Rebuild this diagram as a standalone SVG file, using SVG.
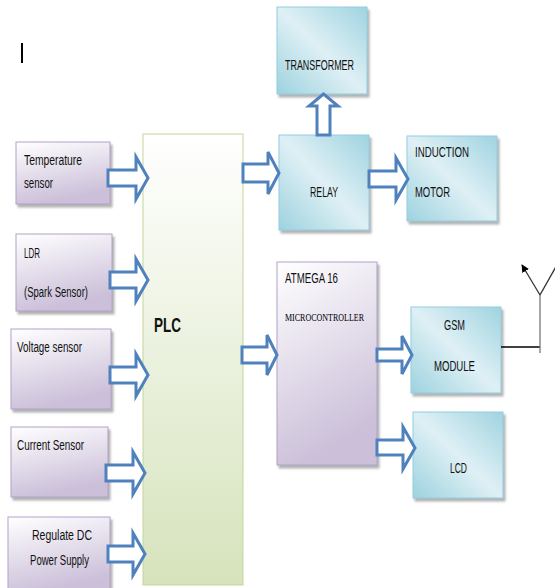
<svg xmlns="http://www.w3.org/2000/svg" width="555" height="588" viewBox="0 0 555 588">
<defs>
<linearGradient id="gPurple" x1="0" y1="0" x2="0.3" y2="1"><stop offset="0" stop-color="#ffffff"/><stop offset="1" stop-color="#cbbfd9"/></linearGradient>
<linearGradient id="gGreen" x1="0" y1="0" x2="0" y2="1"><stop offset="0" stop-color="#ffffff"/><stop offset="1" stop-color="#d6e3bc"/></linearGradient>
<linearGradient id="gCyan" x1="0" y1="1" x2="1" y2="0"><stop offset="0" stop-color="#9dd2df"/><stop offset="0.5" stop-color="#dff0f5"/><stop offset="1" stop-color="#9fd3e0"/></linearGradient>
<filter id="sh" x="-10%" y="-10%" width="130%" height="130%"><feDropShadow dx="2" dy="3" stdDeviation="1.2" flood-color="#7f7f7f" flood-opacity="0.6"/></filter>
<marker id="ah" viewBox="0 0 10 10" refX="9" refY="5" markerWidth="6" markerHeight="6" orient="auto"><path d="M0,0 L10,5 L0,10 Z" fill="#000"/></marker>
</defs>
<style>
.p{fill:url(#gPurple);stroke:#b3a2c7;stroke-width:1;filter:url(#sh)}
.c{fill:url(#gCyan);stroke:#93cddd;stroke-width:1;filter:url(#sh)}
.g{fill:url(#gGreen);stroke:#c3d69b;stroke-width:1}
.t{font-family:"Liberation Sans","Liberation Sans Narrow",sans-serif;font-size:14px;fill:#111}
.s{font-family:"Liberation Serif",serif;font-size:9.5px;fill:#000}
.ar{fill:#fff;stroke:#4f81bd;stroke-width:3;stroke-linejoin:miter}
</style>
<line x1="22" y1="43" x2="22" y2="63" stroke="#000" stroke-width="2"/>
<g id="temp"><rect class="p" x="16" y="142" width="94" height="62"/><text class="t" x="24" y="165" textLength="58" lengthAdjust="spacingAndGlyphs">Temperature</text><text class="t" x="24" y="188" textLength="29" lengthAdjust="spacingAndGlyphs">sensor</text></g>
<g id="ldr"><rect class="p" x="16" y="234" width="96" height="77"/><text class="t" x="24" y="258" textLength="16" lengthAdjust="spacingAndGlyphs">LDR</text><text class="t" x="24" y="297" textLength="64" lengthAdjust="spacingAndGlyphs">(Spark Sensor)</text></g>
<g id="voltage"><rect class="p" x="11" y="329" width="100" height="80"/><text class="t" x="17" y="352" textLength="65" lengthAdjust="spacingAndGlyphs">Voltage sensor</text></g>
<g id="current"><rect class="p" x="11" y="427" width="97" height="70"/><text class="t" x="17" y="450" textLength="67" lengthAdjust="spacingAndGlyphs">Current Sensor</text></g>
<g id="dc"><rect class="p" x="8" y="517" width="102" height="76"/><text class="t" x="32" y="540" textLength="60" lengthAdjust="spacingAndGlyphs">Regulate DC</text><text class="t" x="30" y="565" textLength="59" lengthAdjust="spacingAndGlyphs">Power Supply</text></g>
<g id="plc"><rect class="g" x="143" y="134" width="100" height="451"/><text class="t" x="154" y="332" style="font-size:21px;font-weight:bold" textLength="27" lengthAdjust="spacingAndGlyphs">PLC</text></g>
<g id="transformer"><rect class="c" x="277" y="7" width="90" height="87"/><text class="t" x="285" y="70" textLength="69" lengthAdjust="spacingAndGlyphs">TRANSFORMER</text></g>
<g id="relay"><rect class="c" x="279" y="135" width="90" height="95"/><text class="t" x="310" y="197" textLength="28" lengthAdjust="spacingAndGlyphs">RELAY</text></g>
<g id="motor"><rect class="c" x="407" y="136" width="90" height="85"/><text class="t" x="415" y="157" textLength="54" lengthAdjust="spacingAndGlyphs">INDUCTION</text><text class="t" x="415" y="197" textLength="35" lengthAdjust="spacingAndGlyphs">MOTOR</text></g>
<g id="atmega"><rect class="p" x="277" y="262" width="100" height="203"/><text class="t" x="285" y="283" textLength="53" lengthAdjust="spacingAndGlyphs">ATMEGA 16</text><text class="s" x="285" y="321" textLength="79" lengthAdjust="spacingAndGlyphs">MICROCONTROLLER</text></g>
<g id="gsm"><rect class="c" x="411" y="307" width="90" height="86"/><text class="t" x="444" y="330" textLength="21" lengthAdjust="spacingAndGlyphs">GSM</text><text class="t" x="434" y="371" textLength="41" lengthAdjust="spacingAndGlyphs">MODULE</text></g>
<g id="lcd"><rect class="c" x="413" y="412" width="90" height="86"/><text class="t" x="450" y="473" textLength="17" lengthAdjust="spacingAndGlyphs">LCD</text></g>
<g id="connectors">
<path class="ar" d="M108 170 H136 V157 L148 178 L136 199 V186 H108 Z"/>
<path class="ar" d="M110 272 H136 V259 L148 280 L136 301 V288 H110 Z"/>
<path class="ar" d="M110 367 H136 V354 L148 375 L136 396 V383 H110 Z"/>
<path class="ar" d="M106 465 H133 V452 L145 473 L133 494 V481 H106 Z"/>
<path class="ar" d="M108 546 H133 V533 L145 554 L133 575 V562 H108 Z"/>
<path class="ar" d="M243 164 H268 V152 L279 173 L268 194 V182 H243 Z"/>
<path class="ar" d="M369 171 H396 V158 L408 179 L396 200 V187 H369 Z"/>
<path class="ar" d="M317 135 V106 H309 L323.5 94 L338 106 H330 V135 Z"/>
<path class="ar" d="M242 347 H267 V335 L277 355 L267 375 V363 H242 Z"/>
<path class="ar" d="M377 349 H402 V336 L412 355 L402 374 V361 H377 Z"/>
<path class="ar" d="M377 440 H403 V427 L415 448 L403 469 V455 H377 Z"/>
<line x1="501" y1="347" x2="540" y2="347" stroke="#000" stroke-width="1.3"/>
<line x1="540" y1="295" x2="540" y2="353" stroke="#777" stroke-width="1.3"/>
<line x1="540" y1="295" x2="522" y2="265" stroke="#333" stroke-width="1.3" marker-end="url(#ah)"/>
<line x1="540" y1="295" x2="558" y2="263" stroke="#333" stroke-width="1.3"/>
</g>
</svg>
